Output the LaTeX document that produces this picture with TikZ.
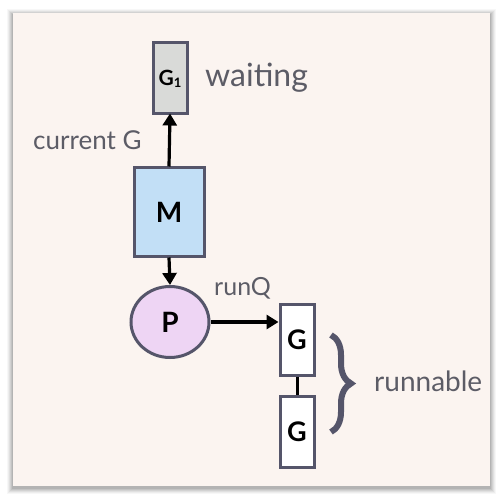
\documentclass[tikz,border=0pt]{standalone}
\usepackage{fontspec}
\setmainfont{Lato}
\usetikzlibrary{arrows.meta,shapes.geometric,decorations.pathreplacing}
\definecolor{cardbg}{HTML}{FBF4F0}
\definecolor{edge}{HTML}{55556A}
\definecolor{txt}{HTML}{5C5C66}
\definecolor{gfill}{HTML}{D9DAD8}
\definecolor{mfill}{HTML}{C2DFF6}
\definecolor{pfill}{HTML}{EED5F4}
\begin{document}
\begin{tikzpicture}[x=1pt,y=-1pt,
  box/.style={draw=edge,line width=3pt,minimum width=34pt,minimum height=71pt,inner sep=0pt,font=\fontsize{27}{29}\selectfont\bfseries},
  lbl/.style={text=txt,inner sep=0pt,anchor=west},
  arr/.style={line width=3.2pt,-{Triangle[length=12pt,width=14pt]}}]
\useasboundingbox (0,0) rectangle (500,497);
\fill[white] (0,0) rectangle (500,497);
% soft shadow
\foreach \i/\o in {6/0.03,5/0.04,4/0.05,3/0.06,2/0.07,1/0.08}{
  \fill[black,opacity=\o] (13-\i,13-\i+2) rectangle (490+\i,486+\i+2);
}
\fill[cardbg] (13,13) rectangle (490,486);
% nodes
\node[box,fill=gfill,font=\fontsize{21}{23}\selectfont\bfseries] (g1) at (170,78.5) {G\raisebox{-2pt}{\fontsize{13}{13}\selectfont 1}};
\node[box,fill=mfill,minimum width=70pt,minimum height=88pt,font=\fontsize{28}{30}\selectfont\bfseries] (m) at (169,212) {M};
\node[ellipse,draw=edge,line width=3pt,fill=pfill,minimum width=78pt,minimum height=71pt,inner sep=0pt,font=\fontsize{28}{30}\selectfont\bfseries] (p) at (170,322) {P};
\node[box,fill=white] (ga) at (297,339.5) {G};
\node[box,fill=white] (gb) at (297,431.5) {G};
% labels
\node[lbl,font=\fontsize{32}{34}\selectfont] (wait) at (205,78) {waiting};
\node[lbl,font=\fontsize{26}{28}\selectfont] (cur) at (33,140) {current G};
\node[lbl,font=\fontsize{25}{27}\selectfont] (runq) at (214,288) {runQ};
\node[lbl,font=\fontsize{28}{30}\selectfont] (runn) at (374,381) {runnable};
% connectors
\draw[arr] (m.north) -- ([yshift=2pt]g1.south);
\draw[arr] (m.south) -- (p.north);
\draw[arr] (p.east) -- (p.east -| ga.west);
\draw[line width=3pt] (ga.south) -- (gb.north);
% brace
\coordinate (bt) at (331,335);
\coordinate (bb) at (331,432);
\draw[edge,line width=6pt,decorate,decoration={brace,amplitude=20pt,aspect=0.5}] (bt) -- (bb);
\end{tikzpicture}
\end{document}
